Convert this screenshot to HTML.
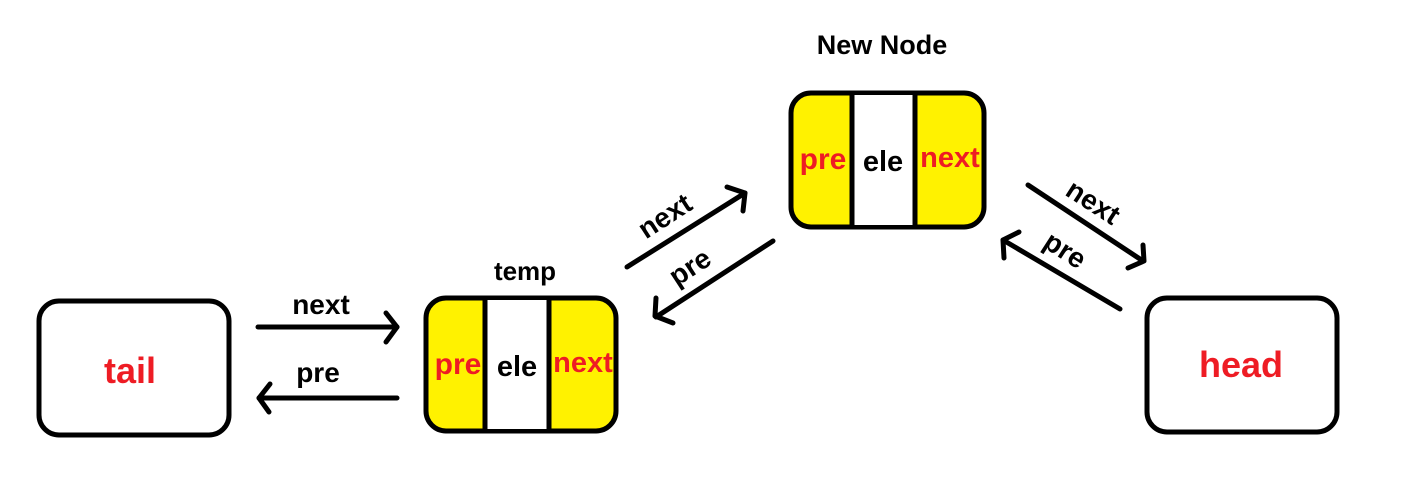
<!DOCTYPE html>
<html><head><meta charset="utf-8"><style>
html,body{margin:0;padding:0;background:#fff;width:1427px;height:488px;overflow:hidden}
svg text{font-family:"Liberation Sans",sans-serif;font-weight:bold}
</style></head><body>
<svg width="1427" height="488" viewBox="0 0 1427 488" xmlns="http://www.w3.org/2000/svg">
<g stroke="#000" stroke-width="5" stroke-linecap="round" stroke-linejoin="round" fill="none">
  <rect x="39" y="301" width="190" height="134" rx="20" fill="#fff"/>
  <rect x="1147" y="298" width="190" height="134" rx="20" fill="#fff"/>
  <rect x="426" y="298" width="190" height="133" rx="20" fill="#fff200"/>
  <rect x="485" y="300" width="64" height="129" fill="#fff" stroke="none"/>
  <line x1="485" y1="300" x2="485" y2="429"/>
  <line x1="549" y1="300" x2="549" y2="429"/>
  <rect x="791" y="93" width="193" height="134" rx="20" fill="#fff200"/>
  <rect x="852" y="95" width="63" height="130" fill="#fff" stroke="none"/>
  <line x1="852" y1="95" x2="852" y2="225"/>
  <line x1="915" y1="95" x2="915" y2="225"/>
  <line x1="258" y1="327" x2="397" y2="327"/>
  <polyline points="386,313 397,327 386,342"/>
  <line x1="397" y1="398" x2="259" y2="398"/>
  <polyline points="270,384 259,398 269,412"/>
  <line x1="627" y1="267" x2="745" y2="193"/>
  <polyline points="727,187 745,193 743,211"/>
  <line x1="773" y1="241" x2="656" y2="317"/>
  <polyline points="656,298 655,316 673,323"/>
  <line x1="1028" y1="185" x2="1143" y2="261"/>
  <polyline points="1143,245 1144,261 1128,268"/>
  <line x1="1120" y1="309" x2="1003" y2="240"/>
  <polyline points="1019,232 1003,240 1004,258"/>
</g>
<g font-size="28" fill="#000">
  <text x="321" y="314" text-anchor="middle">next</text>
  <text x="318" y="382" text-anchor="middle">pre</text>
  <text x="525" y="280" text-anchor="middle" font-size="26">temp</text>
  <text x="882" y="54" text-anchor="middle" font-size="27">New Node</text>
  <text x="517" y="376" text-anchor="middle" font-size="29">ele</text>
  <text x="883" y="171" text-anchor="middle" font-size="29">ele</text>
  <text transform="translate(670,224) rotate(-33)" text-anchor="middle">next</text>
  <text transform="translate(695,275) rotate(-33)" text-anchor="middle">pre</text>
  <text transform="translate(1088,210) rotate(33)" text-anchor="middle">next</text>
  <text transform="translate(1060,258) rotate(33)" text-anchor="middle">pre</text>
</g>
<g fill="#ee1c24" font-size="30">
  <text x="130" y="383" text-anchor="middle" font-size="36">tail</text>
  <text x="1241" y="377" text-anchor="middle" font-size="36">head</text>
  <text x="458" y="374" text-anchor="middle">pre</text>
  <text x="583" y="372" text-anchor="middle" font-size="29">next</text>
  <text x="823" y="169" text-anchor="middle">pre</text>
  <text x="950" y="167" text-anchor="middle" font-size="29">next</text>
</g>
</svg>
</body></html>
